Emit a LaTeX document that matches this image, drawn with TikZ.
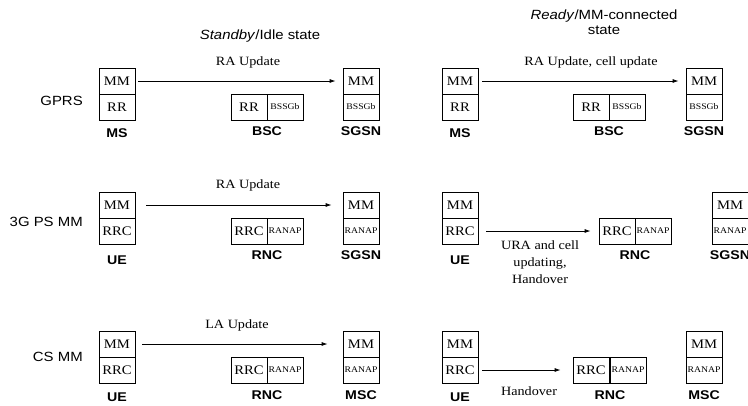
\documentclass[tikz,border=0pt]{standalone}
\usepackage{fontspec}
\setmainfont[FakeStretch=1.12]{Liberation Serif}
\setsansfont[FakeStretch=1.12]{Liberation Sans}
\usetikzlibrary{arrows.meta}
\tikzset{
  layerbox/.style={draw, line width=0.6pt, minimum width=27pt, minimum height=19.5pt,
    inner sep=0pt, font=\fontsize{9.8}{11}\selectfont},
  smallbox/.style={layerbox, font=\fontsize{6.5}{7}\selectfont},
  entity/.style={font=\sffamily\bfseries\fontsize{9.5}{11}\selectfont},
  rowlabel/.style={anchor=east, inner sep=0pt, font=\sffamily\fontsize{10}{12}\selectfont},
  statetitle/.style={align=center, font=\sffamily\fontsize{10}{11.5}\selectfont},
  msglabel/.style={align=center, font=\fontsize{9.5}{13}\selectfont},
  msg/.style={line width=0.6pt, -{Latex[length=4.5pt,width=3pt]}}
}
\begin{document}
\begin{tikzpicture}[x=0.75pt,y=-0.75pt]
  \useasboundingbox (0,0) rectangle (748,405);
  % headings
  \draw
    (260,36) node[statetitle] (idle){\textit{Standby}/Idle state}
    (604,22.5) node[statetitle] (ready){\textit{Ready}/MM-connected\\state}
    (83,101) node[rowlabel] (gprs){GPRS}
    (83,222) node[rowlabel] (psmm){3G PS MM}
    (83,357) node[rowlabel] (csmm){CS MM};
  % GPRS
  \draw
    (117,81) node[layerbox] (ms1a){MM}
    (117,107) node[layerbox] (ms1b){RR}
    (117,133) node[entity] (ms1){MS}
    (249,107) node[layerbox] (bsc1a){RR}
    (285,107) node[smallbox] (bsc1b){BSSGb}
    (267,131) node[entity] (bsc1){BSC}
    (361,81) node[layerbox] (sgsn1a){MM}
    (361,107) node[smallbox] (sgsn1b){BSSGb}
    (361,131) node[entity] (sgsn1){SGSN}
    (248,62) node[msglabel] (upd1){RA Update};
  \draw
    (460,81) node[layerbox] (ms2a){MM}
    (460,107) node[layerbox] (ms2b){RR}
    (460,133) node[entity] (ms2){MS}
    (591,107) node[layerbox] (bsc2a){RR}
    (627,107) node[smallbox] (bsc2b){BSSGb}
    (609,131) node[entity] (bsc2){BSC}
    (704,81) node[layerbox] (sgsn2a){MM}
    (704,107) node[smallbox] (sgsn2b){BSSGb}
    (704,131) node[entity] (sgsn2){SGSN}
    (591,62) node[msglabel] (upd2){RA Update, cell update};
  % 3G PS MM
  \draw
    (117,205) node[layerbox] (ue3a){MM}
    (117,231) node[layerbox] (ue3b){RRC}
    (117,260) node[entity] (ue3){UE}
    (249,231) node[layerbox] (rnc3a){RRC}
    (285,231) node[smallbox] (rnc3b){RANAP}
    (267,255) node[entity] (rnc3){RNC}
    (361,205) node[layerbox] (sgsn3a){MM}
    (361,231) node[smallbox] (sgsn3b){RANAP}
    (361,255) node[entity] (sgsn3){SGSN}
    (248,185) node[msglabel] (upd3){RA Update};
  \draw
    (460,205) node[layerbox] (ue4a){MM}
    (460,231) node[layerbox] (ue4b){RRC}
    (460,260) node[entity] (ue4){UE}
    (617,231) node[layerbox] (rnc4a){RRC}
    (653,231) node[smallbox] (rnc4b){RANAP}
    (635,255) node[entity] (rnc4){RNC}
    (730,205) node[layerbox] (sgsn4a){MM}
    (730,231) node[smallbox] (sgsn4b){RANAP}
    (730,255) node[entity] (sgsn4){SGSN}
    (540,262) node[msglabel] (upd4){URA and cell\\updating,\\Handover};
  % CS MM
  \draw
    (117,344) node[layerbox] (ue5a){MM}
    (117,370) node[layerbox] (ue5b){RRC}
    (117,397) node[entity] (ue5){UE}
    (249,370) node[layerbox] (rnc5a){RRC}
    (285,370) node[smallbox] (rnc5b){RANAP}
    (267,395) node[entity] (rnc5){RNC}
    (361,344) node[layerbox] (msc5a){MM}
    (361,370) node[smallbox] (msc5b){RANAP}
    (361,395) node[entity] (msc5){MSC}
    (237,325) node[msglabel] (upd5){LA Update};
  \draw
    (460,344) node[layerbox] (ue6a){MM}
    (460,370) node[layerbox] (ue6b){RRC}
    (460,397) node[entity] (ue6){UE}
    (591,370) node[layerbox] (rnc6a){RRC}
    (628,370) node[smallbox] (rnc6b){RANAP}
    (610,395) node[entity] (rnc6){RNC}
    (704,344) node[layerbox] (msc6a){MM}
    (704,370) node[smallbox] (msc6b){RANAP}
    (704,395) node[entity] (msc6){MSC}
    (529,391) node[msglabel] (upd6){Handover};
  \begin{scope}[msg]
    \draw[shorten <=2.25pt, shorten >=5.25pt] (ms1a) to (sgsn1a);
    \draw[shorten <=3pt, shorten >=5.25pt] (ms2a) to (sgsn2a);
    \draw[shorten <=8.25pt, shorten >=8.25pt] (ue3a) to (sgsn3a);
    \draw[shorten <=6pt, shorten >=6pt] (ue4b) to (rnc4a);
    \draw[shorten <=5.25pt, shorten >=11.25pt] (ue5a) to (msc5a);
    \draw[shorten <=3pt, shorten >=9pt] (ue6b) to (rnc6a);
  \end{scope}
\end{tikzpicture}
\end{document}
